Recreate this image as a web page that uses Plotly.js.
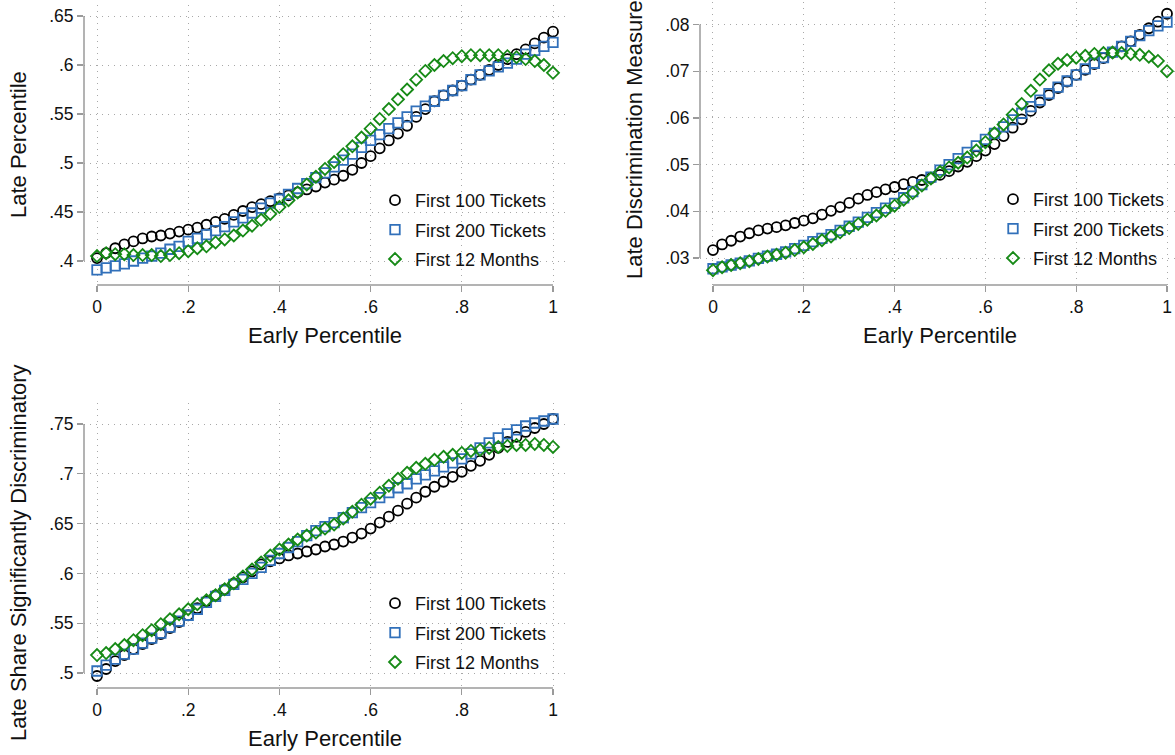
<!DOCTYPE html>
<html><head><meta charset="utf-8">
<script src="https://cdn.plot.ly/plotly-3.0.1.min.js"></script>
<style>html,body{margin:0;padding:0;background:#fff}#chart{width:1175px;height:755px}</style>
</head><body><div id="chart"></div>
<script>
const earlyPct = [0,0.02,0.04,0.06,0.08,0.10,0.12,0.14,0.16,0.18,
  0.20,0.22,0.24,0.26,0.28,0.30,0.32,0.34,0.36,0.38,
  0.40,0.42,0.44,0.46,0.48,0.50,0.52,0.54,0.56,0.58,
  0.60,0.62,0.64,0.66,0.68,0.70,0.72,0.74,0.76,0.78,
  0.80,0.82,0.84,0.86,0.88,0.90,0.92,0.94,0.96,0.98,1.00];

const seriesNames = ['First 100 Tickets','First 200 Tickets','First 12 Months'];

// Panel 1: Late Percentile
const latePct100 = [.403,.408,.413,.417,.420,.423,.425,.426,.428,.430,
  .432,.434,.437,.440,.443,.447,.451,.455,.458,.461,
  .464,.467,.470,.473,.476,.480,.483,.487,.493,.500,
  .507,.515,.523,.530,.538,.547,.555,.563,.569,.574,
  .579,.585,.590,.595,.600,.606,.611,.616,.622,.628,.634];
const latePct200 = [.391,.393,.395,.397,.400,.403,.405,.408,.412,.415,
  .420,.423,.427,.431,.435,.440,.444,.449,.454,.459,
  .463,.468,.474,.479,.485,.490,.496,.503,.509,.516,
  .523,.529,.535,.541,.547,.553,.558,.563,.569,.574,
  .579,.585,.590,.594,.598,.602,.606,.611,.615,.619,.623];
const latePct12m = [.405,.408,.407,.407,.406,.406,.406,.405,.406,.408,
  .410,.413,.415,.419,.422,.426,.431,.436,.442,.448,
  .455,.462,.470,.478,.486,.494,.501,.509,.517,.526,
  .535,.545,.555,.565,.575,.585,.594,.600,.604,.607,
  .609,.610,.610,.610,.610,.609,.608,.606,.604,.600,.592];

// Panel 2: Late Discrimination Measure
const lateDisc100 = [.0317,.0329,.0337,.0346,.0353,.0359,.0363,.0366,.0370,.0375,
  .0380,.0385,.0393,.0401,.0409,.0418,.0427,.0435,.0441,.0447,
  .0452,.0458,.0463,.0467,.0471,.0478,.0486,.0496,.0506,.0518,
  .0530,.0544,.0561,.0579,.0597,.0615,.0633,.0649,.0664,.0678,
  .0692,.0703,.0715,.0728,.0740,.0753,.0764,.0778,.0792,.0806,.0823];
const lateDisc200 = [.0277,.0281,.0285,.0289,.0294,.0299,.0304,.0308,.0313,.0320,
  .0327,.0335,.0342,.0350,.0359,.0368,.0377,.0387,.0397,.0407,
  .0417,.0429,.0442,.0457,.0473,.0488,.0500,.0513,.0526,.0540,
  .0554,.0567,.0581,.0596,.0610,.0624,.0638,.0652,.0666,.0679,
  .0692,.0705,.0717,.0729,.0741,.0753,.0764,.0776,.0787,.0797,.0805];
const lateDisc12m = [.0274,.0280,.0285,.0289,.0293,.0298,.0303,.0307,.0311,.0317,
  .0323,.0330,.0338,.0346,.0355,.0364,.0373,.0382,.0391,.0401,
  .0412,.0425,.0439,.0455,.0470,.0484,.0494,.0504,.0515,.0530,
  .0548,.0567,.0586,.0607,.0630,.0658,.0682,.0702,.0716,.0724,
  .0729,.0733,.0737,.0739,.0740,.0739,.0737,.0735,.0731,.0722,.0700];

// Panel 3: Late Share Significantly Discriminatory
const lateShare100 = [.497,.504,.512,.518,.524,.529,.534,.539,.545,.551,
  .558,.565,.572,.578,.584,.590,.596,.602,.609,.612,
  .615,.618,.620,.622,.624,.627,.629,.632,.636,.640,
  .645,.651,.657,.663,.670,.676,.682,.687,.692,.697,
  .702,.708,.713,.719,.726,.732,.737,.742,.746,.750,.755];
const lateShare200 = [.502,.508,.514,.519,.524,.530,.535,.540,.546,.552,
  .558,.564,.571,.577,.583,.589,.594,.600,.606,.613,
  .620,.626,.632,.638,.643,.647,.651,.656,.661,.666,
  .671,.676,.681,.686,.690,.695,.699,.703,.707,.711,
  .715,.720,.726,.731,.736,.740,.744,.748,.751,.753,.755];
const lateShare12m = [.518,.520,.524,.528,.533,.538,.543,.549,.554,.559,
  .564,.569,.573,.578,.584,.590,.597,.604,.611,.618,
  .624,.629,.634,.638,.641,.645,.649,.655,.662,.669,
  .675,.681,.688,.695,.701,.706,.710,.714,.717,.719,
  .721,.723,.724,.726,.727,.728,.729,.729,.730,.729,.727];

const xTickVals = [0,0.2,0.4,0.6,0.8,1];
const xTickText = ['0','.2','.4','.6','.8','1'];
const y1TickVals = [0.4,0.45,0.5,0.55,0.6,0.65];
const y1TickText = ['.4','.45','.5','.55','.6','.65'];
const y2TickVals = [0.03,0.04,0.05,0.06,0.07,0.08];
const y2TickText = ['.03','.04','.05','.06','.07','.08'];
const y3TickVals = [0.5,0.55,0.6,0.65,0.7,0.75];
const y3TickText = ['.5','.55','.6','.65','.7','.75'];

const yTitles = ['Late Percentile','Late Discrimination Measure','Late Share Significantly Discriminatory'];
const xTitle = 'Early Percentile';

// ---- styling ----
const W = 1175, H = 755;
const FONT = 'Liberation Sans, Arial, Helvetica, sans-serif';
const colors = ['#000000','#3170ba','#168a16'];
const symbols = ['circle-open','square-open','diamond-open'];
const sizes = [10, 9.5, 9.2];
const axisGray = '#9a9a9a';
const gridStyle = {showgrid:true, gridcolor:'#a8a8a8', griddash:'1px,5px', gridwidth:1};

const panels = [
  {series:[latePct100,latePct200,latePct12m], xs:'x', ys:'y', legend:'legend',
   dom:{x:[84,566], y:[5,285]}, xr:[-0.0285,1.0285], yr:[0.37551,0.66122],
   yt:[y1TickVals,y1TickText]},
  {series:[lateDisc100,lateDisc200,lateDisc12m], xs:'x2', ys:'y2', legend:'legend2',
   dom:{x:[700,1175], y:[2,285]}, xr:[-0.0286,1.0176], yr:[0.02422,0.08482],
   yt:[y2TickVals,y2TickText]},
  {series:[lateShare100,lateShare200,lateShare12m], xs:'x3', ys:'y3', legend:'legend3',
   dom:{x:[84,566], y:[403,688]}, xr:[-0.0285,1.0285], yr:[0.48494,0.77108],
   yt:[y3TickVals,y3TickText]}
];

const traces = [];
panels.forEach((p, pi) => {
  p.series.forEach((vals, si) => {
    traces.push({
      type:'scatter', mode:'markers', x: earlyPct, y: vals,
      xaxis: p.xs, yaxis: p.ys, name: seriesNames[si],
      legend: p.legend, legendgroup: 'p' + pi + 's' + si,
      marker:{symbol: symbols[si], size: sizes[si], color: colors[si], line:{width:1.8, color: colors[si]}},
      cliponaxis:false, hoverinfo:'skip'
    });
  });
});

const layout = {
  width: W, height: H, margin:{l:0,r:0,t:0,b:0},
  paper_bgcolor:'#ffffff', plot_bgcolor:'#ffffff',
  font:{family: FONT, color:'#111111', size:17},
  showlegend:true, shapes:[], annotations:[]
};

panels.forEach((p, pi) => {
  const sfx = pi===0 ? '' : String(pi+1);
  const common = Object.assign({ticks:'outside', ticklen:6, tickwidth:1.3, tickcolor:axisGray,
    zeroline:false, showline:false, tickfont:{size:17.5, family:FONT, color:'#111'}, fixedrange:true}, gridStyle);
  layout['xaxis'+sfx] = Object.assign({
    domain:[p.dom.x[0]/W, p.dom.x[1]/W], range:p.xr, anchor: p.ys,
    tickvals:xTickVals, ticktext:xTickText}, common);
  layout['yaxis'+sfx] = Object.assign({
    domain:[1 - p.dom.y[1]/H, 1 - p.dom.y[0]/H], range:p.yr, anchor: p.xs,
    tickvals:p.yt[0], ticktext:p.yt[1]}, common);

  // Stata-style axis lines spanning first..last tick
  const yv = p.yt[0];
  const fy = v => (v - p.yr[0])/(p.yr[1]-p.yr[0]);
  const fx = v => (v - p.xr[0])/(p.xr[1]-p.xr[0]);
  layout.shapes.push({type:'line', xref:p.xs+' domain', yref:p.ys+' domain',
    x0:0, x1:0, y0:fy(yv[0]), y1:fy(yv[yv.length-1]), line:{color:axisGray, width:1.5}});
  layout.shapes.push({type:'line', xref:p.xs+' domain', yref:p.ys+' domain',
    x0:fx(xTickVals[0]), x1:fx(xTickVals[xTickVals.length-1]), y0:0, y1:0, line:{color:axisGray, width:1.5}});

  // legend
  const legX = (p.dom.x[0] + (pi===1 ? 293 : 291)) / W;
  const legMidPx = p.dom.y[0] + (pi===2 ? 230 : (pi===1 ? 227 : 225));
  layout[p.legend] = {
    x: legX, xanchor:'left', y: 1 - legMidPx/H, yanchor:'middle',
    bgcolor:'rgba(0,0,0,0)', borderwidth:0, font:{size:18, family:FONT, color:'#111'},
    tracegroupgap:3, itemclick:false, itemdoubleclick:false
  };

  // axis titles
  const xCenterPx = p.dom.x[0] + (fx(0)+fx(1))/2*(p.dom.x[1]-p.dom.x[0]);
  layout.annotations.push({text:xTitle, xref:'paper', yref:'paper', showarrow:false,
    x:xCenterPx/W, y:1-(p.dom.y[1]+50)/H, xanchor:'center', yanchor:'middle',
    font:{size:22, family:FONT, color:'#111'}});
  const yCenterPx = pi===2 ? 553 : (pi===1 ? 140 : 145);
  const yTitleX = pi===1 ? 634 : 18;
  layout.annotations.push({text:yTitles[pi], xref:'paper', yref:'paper', showarrow:false,
    x:yTitleX/W, y:1-yCenterPx/H, xanchor:'center', yanchor:'middle', textangle:-90,
    font:{size:22, family:FONT, color:'#111'}});
});

Plotly.newPlot('chart', traces, layout, {staticPlot:true, displayModeBar:false});
</script>
</body></html>
